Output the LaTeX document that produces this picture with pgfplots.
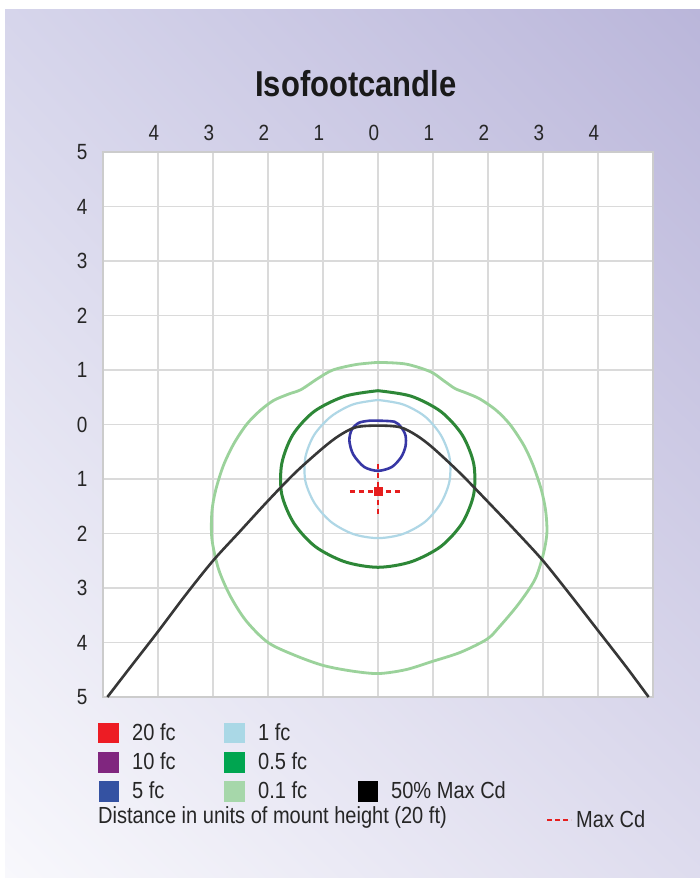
\documentclass[border=0pt]{standalone}
\usepackage{fontspec}
\setmainfont{Liberation Sans}[FakeStretch=0.86]
\usepackage{pgfplots}
\usetikzlibrary{shadings}
\pgfplotsset{compat=1.18}
\definecolor{bgUL}{RGB}{214,213,235}
\definecolor{bgUR}{RGB}{186,182,218}
\definecolor{bgLL}{RGB}{248,248,252}
\definecolor{bgLR}{RGB}{222,220,238}
\definecolor{fcA}{RGB}{237,28,36}
\definecolor{fcB}{RGB}{128,38,127}
\definecolor{fcC}{RGB}{52,82,162}
\definecolor{fcD}{RGB}{170,216,230}
\definecolor{fcE}{RGB}{0,165,80}
\definecolor{fcF}{RGB}{166,215,170}
\definecolor{lnC}{RGB}{55,55,165}
\definecolor{lnD}{RGB}{175,215,230}
\definecolor{lnE}{RGB}{45,135,55}
\definecolor{lnF}{RGB}{155,210,155}
\definecolor{lnK}{RGB}{55,55,55}
\definecolor{maxred}{RGB}{230,30,30}
\definecolor{gridc}{RGB}{218,218,218}
\begin{document}
\begin{tikzpicture}
\begin{scope}[x=1pt,y=1pt]
\fill[white] (0,0) rectangle (700,878);
\shade[upper left=bgUL, upper right=bgUR, lower left=bgLL, lower right=bgLR] (5,0) rectangle (700,868);
\node[font=\fontsize{36}{40}\selectfont\bfseries, text=black!90] at (356,794) {Isofootcandle};
\end{scope}
\begin{axis}[
  at={(103pt,181pt)}, anchor=south west,
  scale only axis, width=550pt, height=545pt,
  xmin=-5, xmax=5, ymin=-5, ymax=5,
  axis background/.style={fill=white},
  axis line style={draw=black!20, line width=2pt},
  xtick={-5,...,5}, ytick={-5,...,5},
  xticklabels={,4,3,2,1,0,1,2,3,4,},
  yticklabels={5,4,3,2,1,0,1,2,3,4,5},
  xticklabel pos=upper,
  major tick length=0pt,
  grid=major,
  major grid style={draw=gridc, line width=1.4pt},
  /pgf/number format/assume math mode=true,
  ticklabel style={font=\fontsize{22}{25}\selectfont, text=black!85},
  xticklabel style={yshift=8pt, xshift=-4pt},
  yticklabel style={xshift=-12pt},
  clip=false,
]
% 0.1 fc
\addplot[no markers, smooth, color=lnF, line width=2.8pt] coordinates {
(0,1.14) (0.5,1.11) (0.95,0.97) (1.2,0.8) (1.4,0.66) (1.6,0.58) (1.85,0.47) (2.15,0.26) (2.4,0) (2.65,-0.38) (2.82,-0.75) (2.97,-1.2) (3.05,-1.6) (3.07,-2.0) (3.0,-2.4) (2.85,-2.85) (2.55,-3.3) (2.2,-3.72) (1.98,-3.94) (1.5,-4.18) (0.98,-4.35) (0.5,-4.5) (0,-4.57) (-0.5,-4.52) (-1.0,-4.42) (-1.5,-4.24) (-2.0,-4.0) (-2.4,-3.6) (-2.69,-3.14) (-2.9,-2.65) (-3.02,-2.1) (-3.02,-1.6) (-2.95,-1.2) (-2.81,-0.75) (-2.62,-0.35) (-2.39,0) (-2.15,0.25) (-1.9,0.44) (-1.62,0.56) (-1.4,0.64) (-1.1,0.84) (-0.82,1.0) (-0.4,1.1) (0,1.14)
};
% 1 fc
\addplot[no markers, smooth, color=lnD, line width=2.2pt] coordinates {
(0,0.45) (0.45,0.37) (0.85,0.15) (1.14,-0.19) (1.3,-0.6) (1.3,-1.04) (1.14,-1.45) (0.85,-1.79) (0.45,-2.01) (0,-2.085) (-0.45,-2.01) (-0.85,-1.79) (-1.15,-1.45) (-1.32,-1.04) (-1.32,-0.6) (-1.16,-0.19) (-0.85,0.15) (-0.45,0.37) (0,0.45)
};
% 0.5 fc
\addplot[no markers, smooth, color=lnE, line width=3pt] coordinates {
(0,0.62) (0.6,0.52) (1.14,0.24) (1.53,-0.19) (1.74,-0.72) (1.74,-1.28) (1.53,-1.81) (1.14,-2.24) (0.6,-2.52) (0,-2.62) (-0.6,-2.52) (-1.14,-2.24) (-1.53,-1.81) (-1.75,-1.28) (-1.75,-0.72) (-1.55,-0.19) (-1.16,0.24) (-0.6,0.52) (0,0.62)
};
% 5 fc
\addplot[no markers, smooth, color=lnC, line width=2.6pt] coordinates {
(0,0.07) (0.3,0.05) (0.42,-0.05) (0.5,-0.2) (0.5,-0.4) (0.42,-0.6) (0.25,-0.78) (0,-0.85) (-0.25,-0.78) (-0.45,-0.55) (-0.52,-0.3) (-0.48,-0.1) (-0.35,0.03) (-0.15,0.07) (0,0.07)
};
% 50% Max Cd
\addplot[no markers, smooth, color=lnK, line width=2.6pt] coordinates {
(-4.92,-5) (-4.5,-4.45) (-4.0,-3.8) (-3.5,-3.13) (-3.0,-2.5) (-2.5,-1.95) (-2.0,-1.4) (-1.5,-0.88) (-1.0,-0.43) (-0.7,-0.2) (-0.4,-0.05) (0,-0.02) (0.4,-0.05) (0.7,-0.2) (1.0,-0.43) (1.5,-0.9) (2.0,-1.42) (2.5,-1.95) (3.0,-2.5) (3.5,-3.13) (4.0,-3.78) (4.5,-4.43) (4.92,-5)
};
% Max Cd
\addplot[no markers, color=maxred, line width=2.2pt, dash pattern=on 5pt off 4pt] coordinates {(-0.51,-1.23) (0.45,-1.23)};
\addplot[no markers, color=maxred, line width=2.2pt, dash pattern=on 5pt off 4pt] coordinates {(0,-0.72) (0,-1.67)};
\addplot[only marks, mark=square*, mark size=4pt, color=maxred] coordinates {(0,-1.23)};
\end{axis}
\begin{scope}[x=1pt,y=1pt, every node/.style={font=\fontsize{23.3}{27}\selectfont, text=black!85, inner sep=0pt, anchor=base west}]
\fill[fcA] (98,135) rectangle (119,155);
\fill[fcB] (98,105) rectangle (119,126);
\fill[fcC] (99,76) rectangle (119,97);
\fill[fcD] (224,135) rectangle (245,155);
\fill[fcE] (224,105) rectangle (245,126);
\fill[fcF] (224,76) rectangle (245,97);
\fill[black] (358,76) rectangle (378,97);
\node at (132,137) {20 fc};
\node at (132,108) {10 fc};
\node at (132,79) {5 fc};
\node at (258,137) {1 fc};
\node at (258,108) {0.5 fc};
\node at (258,79) {0.1 fc};
\node at (391,79) {50\% Max Cd};
\node at (98,54) {Distance in units of mount height (20 ft)};
\draw[maxred, line width=1.6pt, dash pattern=on 5pt off 3pt] (547,58) -- (571,58);
\node at (576,50) {Max Cd};
\end{scope}
\end{tikzpicture}
\end{document}
